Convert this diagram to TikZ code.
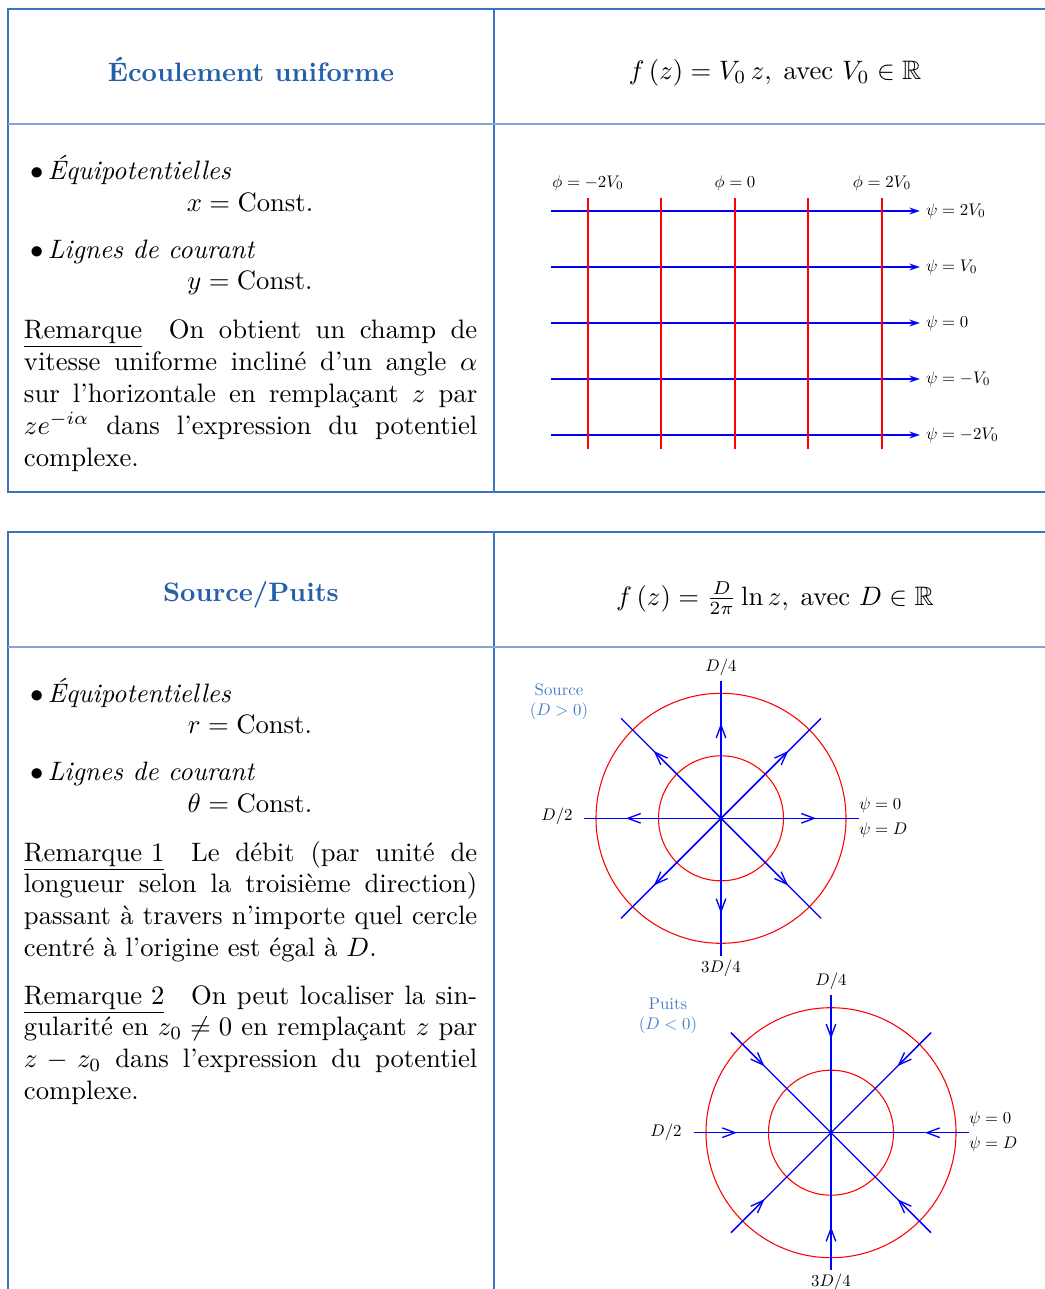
\documentclass[tikz,border=0pt]{standalone}
\usepackage{fontspec}
\usepackage{amsmath,amssymb}
\usetikzlibrary{arrows.meta}
\definecolor{tblue}{RGB}{35,95,170}
\definecolor{bord}{RGB}{60,115,195}
\definecolor{bordl}{RGB}{130,165,215}
\definecolor{lbl}{RGB}{70,125,200}
\newcommand{\jl}[1]{\hbox to 170pt{#1}}
\begin{document}
\begin{tikzpicture}[x=0.375pt,y=-0.375pt,
  every node/.style={inner sep=0pt,outer sep=0pt},
  lab/.style={scale=0.63},
  border/.style={draw=bord,line width=0.6pt},
  hborder/.style={draw=bordl,line width=1pt},
  title/.style={font=\bfseries,text=tblue,anchor=base},
  txt/.style={anchor=base west},
  eq/.style={anchor=base},
  psiline/.style={blue,line width=0.45pt,-{Stealth[length=4pt,width=2.6pt]}},
  philine/.style={red,line width=0.45pt},
  circ/.style={red,line width=0.4pt},
  flow/.style={blue,line width=0.5pt},
  flowarr/.style={blue,line width=0.5pt,-{Straight Barb[length=4.8pt,width=3.6pt]}}]
\useasboundingbox (0,0) rectangle (1045,1289);

% ---------- Table 1 ----------
\draw[border] (1045,9) -- (8,9) -- (8,492) -- (1045,492);
\draw[border] (494,9) -- (494,492);
\draw[hborder] (8,124) -- (1045,124);

\node[title] (t1) at (251,81) {Écoulement uniforme};
\node[eq] (f1) at (775,79) {$f\left(z\right)=V_0\,z,\;\text{avec }V_0\in\mathbb{R}$};

\node[txt] (b1) at (30,179) {$\bullet$\,\textit{Équipotentielles}};
\node[eq] (e1) at (250,211) {$x=\text{Const.}$};
\node[txt] (b2) at (30,258) {$\bullet$\,\textit{Lignes de courant}};
\node[eq] (e2) at (250,289) {$y=\text{Const.}$};

\node[txt] (r1a) at (24,338) {\jl{\underline{Remarque}\hskip 1em On obtient un champ de}};
\node[txt] (r1b) at (24,370) {\jl{vitesse uniforme incliné d'un angle $\alpha$}};
\node[txt] (r1c) at (24,402) {\jl{sur l'horizontale en remplaçant $z$ par}};
\node[txt] (r1d) at (24,434) {\jl{$ze^{-i\alpha}$ dans l'expression du potentiel}};
\node[txt] (r1e) at (24,466) {complexe.};

% grid
\foreach \y/\l [count=\i] in {211/{2V_0},267/{V_0},323/{0},379/{-V_0},435/{-2V_0}}{
  \coordinate (ps\i) at (551,\y);
  \coordinate (pe\i) at (920,\y);
  \draw[psiline] (ps\i) -- (pe\i);
  \node[lab,anchor=west] (pl\i) at (926,\y) {$\psi=\l$};
}
\foreach \x [count=\i] in {588,661,735,808,882}{
  \coordinate (vt\i) at (\x,198);
  \coordinate (vb\i) at (\x,449);
  \draw[philine] (vt\i) -- (vb\i);
}
\node[lab,anchor=base] (ph1) at (588,187) {$\phi=-2V_0$};
\node[lab,anchor=base] (ph2) at (735,187) {$\phi=0$};
\node[lab,anchor=base] (ph3) at (882,187) {$\phi=2V_0$};

% ---------- Table 2 ----------
\draw[border] (1045,532) -- (8,532) -- (8,1289);
\draw[border] (494,532) -- (494,1289);
\draw[hborder] (8,647) -- (1045,647);

\node[title] (t2) at (251,601) {Source/Puits};
\node[eq] (f2) at (775,605) {$f\left(z\right)=\frac{D}{2\pi}\ln z,\;\text{avec }D\in\mathbb{R}$};

\node[txt] (b3) at (30,702) {$\bullet$\,\textit{Équipotentielles}};
\node[eq] (e3) at (250,733) {$r=\text{Const.}$};
\node[txt] (b4) at (30,780) {$\bullet$\,\textit{Lignes de courant}};
\node[eq] (e4) at (250,812) {$\theta=\text{Const.}$};

\node[txt] (r2a) at (24,861) {\jl{\underline{Remarque 1}\hskip 1em Le débit (par unité de}};
\node[txt] (r2b) at (24,892) {\jl{longueur selon la troisième direction)}};
\node[txt] (r2c) at (24,924) {\jl{passant à travers n'importe quel cercle}};
\node[txt] (r2d) at (24,956) {centré à l'origine est égal à $D$.};

\node[txt] (r3a) at (24,1004) {\jl{\underline{Remarque 2}\hskip 1em On peut localiser la sin-}};
\node[txt] (r3b) at (24,1035) {\jl{gularité en $z_0\neq 0$ en remplaçant $z$ par}};
\node[txt] (r3c) at (24,1067) {\jl{$z-z_0$ dans l'expression du potentiel}};
\node[txt] (r3d) at (24,1099) {complexe.};

% source
\coordinate (sc) at (721,818.3);
\draw[circ] (sc) circle[radius=46.875pt];
\draw[circ] (sc) circle[radius=23.4375pt];
\foreach \ex/\ey/\ax/\ay [count=\i] in {137.5/0/95/0,-137.5/0/-95/0,0/137.5/0/95,0/-137.5/0/-95,100/100/67.2/67.2,-100/100/-67.2/67.2,100/-100/67.2/-67.2,-100/-100/-67.2/-67.2}{
  \coordinate (se\i) at ([shift={(\ex,\ey)}]sc);
  \coordinate (sa\i) at ([shift={(\ax,\ay)}]sc);
  \draw[flow] (sc) -- (se\i);
  \draw[flowarr] (sc) -- (sa\i);
}
\node[lab] (sl1) at (721,667) {$D/4$};
\node[lab] (sl2) at (721,968) {$3D/4$};
\node[lab] (sl3) at (557,816) {$D/2$};
\node[lab,anchor=west] (sl4) at (859,805) {$\psi=0$};
\node[lab,anchor=west] (sl5) at (859,830) {$\psi=D$};
\node[lab,text=lbl,align=center] (sl6) at (559,701.5) {Source\\$(D>0)$};

% puits
\coordinate (pc) at (831,1132.7);
\draw[circ] (pc) circle[radius=46.875pt];
\draw[circ] (pc) circle[radius=23.4375pt];
\foreach \ex/\ey/\ax/\ay [count=\i] in {137.5/0/94/0,-137.5/0/-94/0,0/137.5/0/94,0/-137.5/0/-94,100/100/66.5/66.5,-100/100/-66.5/66.5,100/-100/66.5/-66.5,-100/-100/-66.5/-66.5}{
  \coordinate (qe\i) at ([shift={(\ex,\ey)}]pc);
  \coordinate (qa\i) at ([shift={(\ax,\ay)}]pc);
  \draw[flow] (qe\i) -- (pc);
  \draw[flowarr] (qe\i) -- (qa\i);
}
\node[lab] (pl1) at (831,981) {$D/4$};
\node[lab] (pl2) at (831,1282) {$3D/4$};
\node[lab] (pl3) at (666,1132) {$D/2$};
\node[lab,anchor=west] (pl4) at (969,1119) {$\psi=0$};
\node[lab,anchor=west] (pl5) at (969,1144) {$\psi=D$};
\node[lab,text=lbl,align=center] (pl6) at (668,1016) {Puits\\$(D<0)$};
\end{tikzpicture}
\end{document}
